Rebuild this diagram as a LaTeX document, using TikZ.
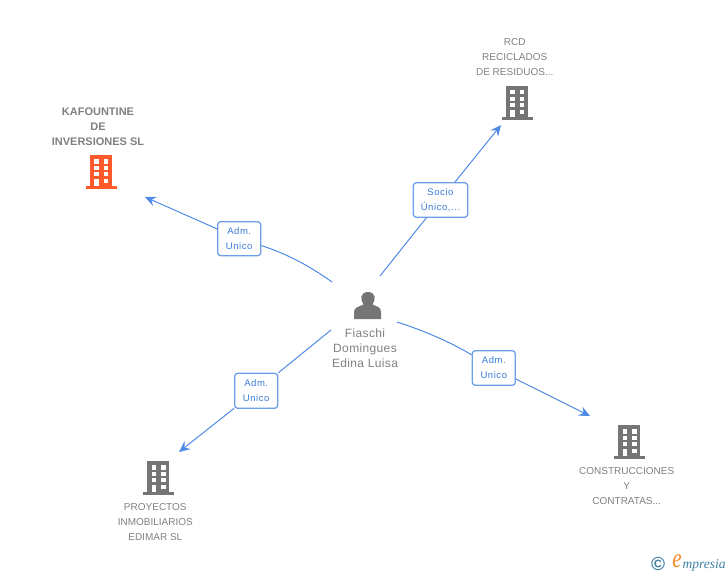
\documentclass[tikz,border=0pt]{standalone}
\usepackage{fontspec}
\setmainfont{Liberation Sans}
\newfontfamily\lblfont[LetterSpace=6]{Liberation Sans}
\newfontfamily\perfont[LetterSpace=3]{Liberation Sans}
\newfontfamily\logofont{Liberation Serif}
\usetikzlibrary{arrows.meta}
\definecolor{bgray}{HTML}{757575}
\definecolor{txtgray}{HTML}{808080}
\definecolor{orng}{HTML}{FF5A2B}
\definecolor{linkblue}{HTML}{4F8BE6}
\definecolor{lbltxt}{HTML}{3A7BD8}
\definecolor{lblbord}{HTML}{6C9FE8}
\definecolor{logoteal}{HTML}{3F7F9F}
\definecolor{logoorng}{HTML}{F08A24}
\tikzset{
  pics/building/.style={code={
    \fill[#1] (-11,-17) rectangle (11,14);
    \fill[#1] (-15.5,14) rectangle (15.5,17);
    \foreach \yy in {-12.7,-6.3,0}{
      \fill[white] (-6.7,\yy) rectangle (-2,\yy+4.2);
      \fill[white] (2.7,\yy) rectangle (7.3,\yy+4.2);
    }
    \fill[white] (-6.7,6.7) rectangle (-2,14);
    \fill[white] (2.7,6.7) rectangle (7.3,11);
  }},
  conn/.style={draw=linkblue,line width=1pt},
  arrowed/.style={conn,-{Stealth[length=11pt,width=10pt,inset=4pt]}},
  lbl/.style={draw=lblbord,line width=1.3pt,fill=white,rounded corners=3pt,align=center,inner sep=0pt,text=lbltxt,font=\fontsize{9.5}{15}\lblfont},
  ent/.style={align=center,inner sep=0pt,text=txtgray,font=\fontsize{10}{15}\selectfont},
}
\begin{document}
\begin{tikzpicture}[x=1pt,y=-1pt]
\useasboundingbox (0,0) rectangle (728,575);
% buildings
\path (101,172) pic {building=orng};
\path (517,103) pic {building=bgray};
\path (629.3,442) pic {building=bgray};
\path (158.3,478) pic {building=bgray};
% person
\fill[bgray] (354,319) -- (354,312) .. controls (354,307.5) and (358,307) .. (363.5,304.5)
  .. controls (360,300) and (360,292) .. (368,292) .. controls (376,292) and (376,300) .. (372.5,304.5)
  .. controls (378,307) and (381,307.5) .. (381,312) -- (381,319) -- cycle;
% texts
\node[ent,font=\fontsize{11}{15}\selectfont\bfseries] (t1) at (98,126.5) {KAFOUNTINE\\DE\\INVERSIONES SL};
\node[ent] (t2) at (514.7,57.5) {RCD\\RECICLADOS\\DE RESIDUOS...};
\node[ent] (t3) at (626.7,486.5) {CONSTRUCCIONES\\Y\\CONTRATAS...};
\node[ent] (t4) at (155.3,522.5) {PROYECTOS\\INMOBILIARIOS\\EDIMAR SL};
\node[ent,font=\fontsize{12}{15}\perfont] (t5) at (365,348) {Fiaschi\\Domingues\\Edina Luisa};
% labels
\node[lbl,minimum width=43pt,minimum height=34pt] (l1) at (239.2,238.7) {Adm.\\Unico};
\node[lbl,minimum width=54.4pt,minimum height=34.6pt] (l2) at (440.5,200) {Socio\\Único,...};
\node[lbl,minimum width=43pt,minimum height=34.6pt] (l3) at (493.8,368) {Adm.\\Unico};
\node[lbl,minimum width=43pt,minimum height=35pt] (l4) at (256.2,390.8) {Adm.\\Unico};
% connector ends
\coordinate (s1) at (332,282);
\coordinate (e1) at (145,197);
\coordinate (s2) at (380,276);
\coordinate (e2) at (501,125);
\coordinate (s3) at (397,322);
\coordinate (e3) at (590,416);
\coordinate (s4) at (331,330);
\coordinate (e4) at (179,452);
\draw[conn] (s1) .. controls (310,266) and (285,253) .. (l1);
\draw[arrowed] (l1) -- (e1);
\draw[conn] (s2) -- (l2);
\draw[arrowed] (l2) -- (e2);
\draw[conn] (s3) .. controls (425,331) and (450,342) .. (l3);
\draw[arrowed] (l3) -- (e3);
\draw[conn] (s4) -- (l4);
\draw[arrowed] (l4) -- (e4);
% logo
\node[inner sep=0pt,text=logoteal,font=\fontsize{19}{19}\selectfont\bfseries] (c) at (658,564) {©};
\node[inner sep=0pt,text=logoorng,font=\fontsize{21}{21}\logofont\itshape,yscale=1.3,anchor=east] (le) at (682,561.5) {e};
\node[inner sep=0pt,text=logoteal,font=\fontsize{13.5}{13.5}\logofont\itshape,anchor=west] (lm) at (682.5,565) {mpresia};
\end{tikzpicture}
\end{document}
